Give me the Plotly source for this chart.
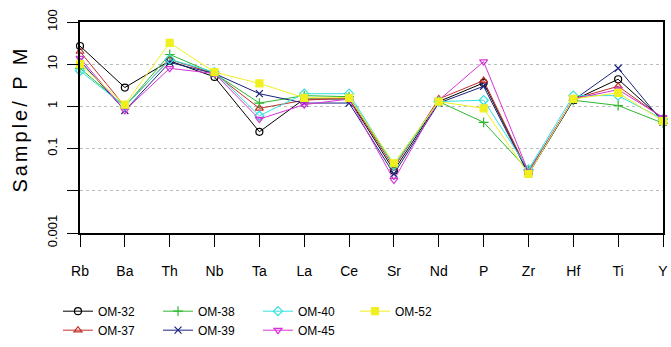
import plotly.graph_objects as go

elements = ["Rb", "Ba", "Th", "Nb", "Ta", "La", "Ce", "Sr", "Nd", "P", "Zr", "Hf", "Ti", "Y"]

om32 = [27, 2.8, 12, 5.0, 0.25, 1.5, 1.5, 0.030, 1.3, 3.6, 0.026, 1.4, 4.4, 0.48]
om37 = [20, 1.0, 13, 6.0, 0.9, 1.4, 1.6, 0.035, 1.5, 4.1, 0.027, 1.5, 3.0, 0.52]
om38 = [8, 1.0, 17, 6.0, 1.2, 1.8, 1.7, 0.040, 1.3, 0.42, 0.030, 1.4, 1.05, 0.40]
om39 = [12, 0.8, 11, 6.0, 2.0, 1.2, 1.2, 0.025, 1.2, 3.0, 0.025, 1.4, 8.0, 0.42]
om40 = [7, 1.0, 13, 6.5, 0.6, 2.0, 2.0, 0.040, 1.3, 1.4, 0.032, 1.8, 1.8, 0.50]
om45 = [14, 0.8, 8, 6.0, 0.5, 1.1, 1.5, 0.018, 1.4, 11.5, 0.028, 1.5, 2.5, 0.55]
om52 = [10, 1.1, 32, 6.5, 3.5, 1.6, 1.6, 0.045, 1.3, 0.9, 0.025, 1.5, 2.1, 0.45]

yticks = [100, 10, 1, 0.1, 0.01, 0.001]
yticktext = ["100", "10", "1", "0.1", "", "0.001"]

series = [
    ("OM-32", om32, "#000000", "circle-open", "legend"),
    ("OM-37", om37, "#C0302A", "triangle-up-open", "legend"),
    ("OM-38", om38, "#2EB82E", "cross-thin-open", "legend2"),
    ("OM-39", om39, "#1A237E", "x-thin-open", "legend2"),
    ("OM-40", om40, "#33E0E0", "diamond-open", "legend3"),
    ("OM-45", om45, "#D633D6", "triangle-down-open", "legend3"),
    ("OM-52", om52, "#F0F020", "square", "legend4"),
]

fig = go.Figure()
for name, vals, col, sym, lg in series:
    fig.add_trace(go.Scatter(
        x=elements, y=vals, name=name, mode="lines+markers",
        line=dict(color=col, width=1),
        marker=dict(symbol=sym, size=7, color=col, line=dict(color=col, width=1.2)),
        cliponaxis=False, legend=lg,
    ))

legfont = dict(family="Liberation Sans, Arial, sans-serif", size=12, color="#000")
common = dict(orientation="v", yanchor="top", xanchor="left", xref="container", yref="container",
              font=legfont, bgcolor="rgba(0,0,0,0)", tracegroupgap=0, itemwidth=30)

fig.update_layout(
    width=671, height=347,
    margin=dict(l=80, r=8, t=22, b=114, autoexpand=False),
    paper_bgcolor="white", plot_bgcolor="white",
    font=dict(family="Liberation Sans, Arial, sans-serif", color="#000"),
    legend=dict(x=0.0864, y=0.145, **common),
    legend2=dict(x=0.2355, y=0.145, **common),
    legend3=dict(x=0.3845, y=0.145, **common),
    legend4=dict(x=0.529, y=0.145, **common),
    xaxis=dict(
        type="category", range=[0, 13], showgrid=False,
        ticks="outside", ticklen=12, tickwidth=1, tickcolor="#000",
        showline=True, linecolor="#000", linewidth=1.5, mirror=True,
        tickfont=dict(size=14), ticklabelstandoff=12, zeroline=False,
    ),
    yaxis=dict(
        type="log", range=[-3, 2],
        tickvals=yticks, ticktext=yticktext,
        tickangle=-90, ticks="outside", ticklen=11, tickcolor="#000",
        tickfont=dict(size=13), ticklabelstandoff=5,
        showline=True, linecolor="#000", linewidth=1.5, mirror=True,
        showgrid=True, gridcolor="#BBBBBB", griddash="dot", gridwidth=1,
        zeroline=False,
    ),
    annotations=[dict(
        text='<span style="letter-spacing:3px">Sample/ P M</span>',
        xref="paper", yref="paper", x=-0.102, y=0.54,
        xanchor="center", yanchor="middle", textangle=-90, showarrow=False,
        font=dict(size=20, color="#000"),
    )],
)

fig.write_html("out.html", post_script="document.body.style.margin='0';",
               config={"displayModeBar": False})
